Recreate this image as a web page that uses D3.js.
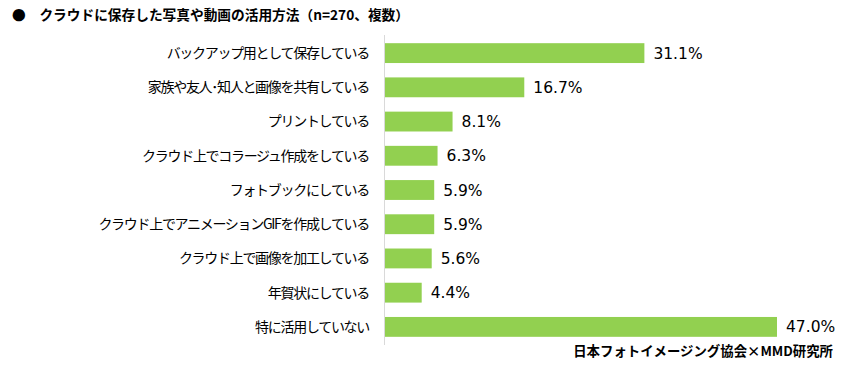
<!DOCTYPE html>
<html><head><meta charset="utf-8">
<script src="https://cdn.jsdelivr.net/npm/d3@7"></script>
<style>body{margin:0;background:#fff}svg{display:block}</style>
</head><body>
<script>
const categories = ["バックアップ用として保存している","家族や友人･知人と画像を共有している","プリントしている","クラウド上でコラージュ作成をしている","フォトブックにしている","クラウド上でアニメーションGIFを作成している","クラウド上で画像を加工している","年賀状にしている","特に活用していない"];
const values = [31.1,16.7,8.1,6.3,5.9,5.9,5.6,4.4,47.0];
const title = "●　クラウドに保存した写真や動画の活用方法（n=270、複数）";
const source = "日本フォトイメージング協会×MMD研究所";

const W=844,H=366;
const svg=d3.select("body").append("svg").attr("width",W).attr("height",H);
const font="'Noto Sans CJK JP','Noto Sans',sans-serif";
const x=d3.scaleLinear().domain([0,47.0]).range([385,777]);
const y=d3.scaleBand().domain(categories).range([36,344]).paddingInner(0.42).paddingOuter(0.21);

svg.append("text").attr("x",12).attr("y",20).attr("font-family",font).attr("font-weight","bold")
  .attr("font-size",13.7).attr("fill","#000").text(title);

svg.selectAll("rect.bar").data(values).join("rect").attr("class","bar")
  .attr("x",x(0)).attr("y",(d,i)=>y(categories[i])).attr("width",d=>x(d)-x(0))
  .attr("height",y.bandwidth()).attr("fill","#92d050");

svg.append("line").attr("x1",384.5).attr("x2",384.5).attr("y1",35).attr("y2",345)
  .attr("stroke","#d9d9d9").attr("stroke-width",1);

svg.selectAll("text.cat").data(categories).join("text").attr("class","cat")
  .attr("x",369).attr("y",d=>y(d)+y.bandwidth()/2).attr("dy","0.35em")
  .attr("text-anchor","end").attr("font-family",font).attr("font-size",14)
  .attr("letter-spacing","-1.3px").attr("fill","#000").text(d=>d);

svg.selectAll("text.val").data(values).join("text").attr("class","val")
  .attr("x",d=>x(d)+9).attr("y",(d,i)=>y(categories[i])+y.bandwidth()/2).attr("dy","0.36em")
  .attr("font-family","'DejaVu Sans',sans-serif").attr("font-size",15.5).attr("fill","#000").text(d=>d.toFixed(1)+"%");

svg.append("text").attr("x",833).attr("y",356).attr("text-anchor","end").attr("font-family",font)
  .attr("font-weight","bold").attr("font-size",13.4).attr("fill","#000").text(source);
</script>
</body></html>
